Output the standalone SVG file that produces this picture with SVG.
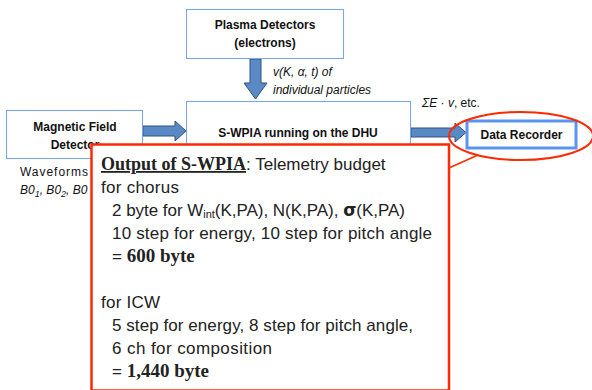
<svg xmlns="http://www.w3.org/2000/svg" width="592" height="390" viewBox="0 0 592 390">
<style>
.box{fill:#fff;stroke:#7aa6ec;stroke-width:1.1}
.lbl{font-family:"Liberation Sans",Arial,sans-serif;font-weight:bold;font-size:12px;fill:#111;text-anchor:middle}
.arr{fill:#5a8ac6;stroke:#30507e;stroke-width:1}
.note{font-family:"Liberation Sans",Arial,sans-serif;font-size:12px;fill:#111}
.ct{font-family:"Liberation Sans",Arial,sans-serif;font-size:17px;fill:#222}
.bs{font-family:"Liberation Serif","Times New Roman",serif;font-weight:bold}
.red{fill:none;stroke:#ff2a00}
</style>
<g id="connectors">
<path class="arr" d="M250,59 H261 V83 H267 L255.5,99 L244,83 H250 Z"/>
<path class="arr" d="M143,126 H175 V121 L186,131 L175,141 V136 H143 Z"/>
<path class="arr" d="M411,128 H455 V123 L466,132.5 L455,142 V137 H411 Z"/>
</g>
<g id="plasma">
<rect class="box" x="186.5" y="9.5" width="157" height="49"/>
<text class="lbl" x="265" y="29">Plasma Detectors</text>
<text class="lbl" x="265" y="47">(electrons)</text>
</g>
<text class="note" x="273" y="76" font-style="italic">v(K, α, t) of</text>
<text class="note" x="273" y="94" font-style="italic">individual particles</text>
<g id="swpia">
<rect class="box" x="186.5" y="101.5" width="224" height="60"/>
<text class="lbl" x="298" y="137">S-WPIA running on the DHU</text>
</g>
<g id="magnetic">
<rect class="box" x="6.5" y="110.5" width="136" height="48"/>
<text class="lbl" x="75" y="131">Magnetic Field</text>
<text class="lbl" x="75" y="149">Detector</text>
</g>
<text class="note" x="20" y="176" font-size="13" textLength="68">Waveforms</text>
<text class="note" x="20" y="194" font-size="14" font-style="italic">B0<tspan font-size="9" dy="3">1</tspan><tspan dy="-3">, B0</tspan><tspan font-size="9" dy="3">2</tspan><tspan dy="-3">, B0</tspan></text>
<text class="note" x="422" y="107"><tspan font-style="italic">ΣE</tspan> · <tspan font-style="italic">v</tspan>, etc.</text>
<g id="recorder">
<rect x="467" y="121" width="109" height="27" fill="#fff" stroke="#5b94f0" stroke-width="3"/>
<text class="lbl" x="521.5" y="139" font-size="13">Data Recorder</text>
</g>
<ellipse class="red" cx="521" cy="136" rx="72" ry="24" stroke-width="2"/>
<g id="callout">
<rect x="91.5" y="144.5" width="357.5" height="246" fill="#fff" stroke="#ff2a00" stroke-width="2.5"/>
<line x1="449" y1="168" x2="478" y2="155" stroke="#ff2a00" stroke-width="1.5"/>
<text class="ct" x="101" y="170"><tspan class="bs" font-size="18" text-decoration="underline">Output of S-WPIA</tspan>: Telemetry budget</text>
<text class="ct" x="101" y="193" textLength="78">for chorus</text>
<text class="ct" x="112" y="216" textLength="293">2 byte for W<tspan font-size="11" dy="2">int</tspan><tspan dy="-2">(K,PA), N(K,PA), </tspan><tspan font-weight="bold" font-family="DejaVu Sans,sans-serif">σ</tspan>(K,PA)</text>
<text class="ct" x="112" y="239" textLength="320">10 step for energy, 10 step for pitch angle</text>
<text class="ct" x="112" y="262">= <tspan class="bs" font-size="19">600 byte</tspan></text>
<text class="ct" x="101" y="308" textLength="59">for ICW</text>
<text class="ct" x="112" y="331" textLength="301">5 step for energy, 8 step for pitch angle,</text>
<text class="ct" x="112" y="354" textLength="160">6 ch for composition</text>
<text class="ct" x="112" y="377">= <tspan class="bs" font-size="19">1,440 byte</tspan></text>
</g>
</svg>
